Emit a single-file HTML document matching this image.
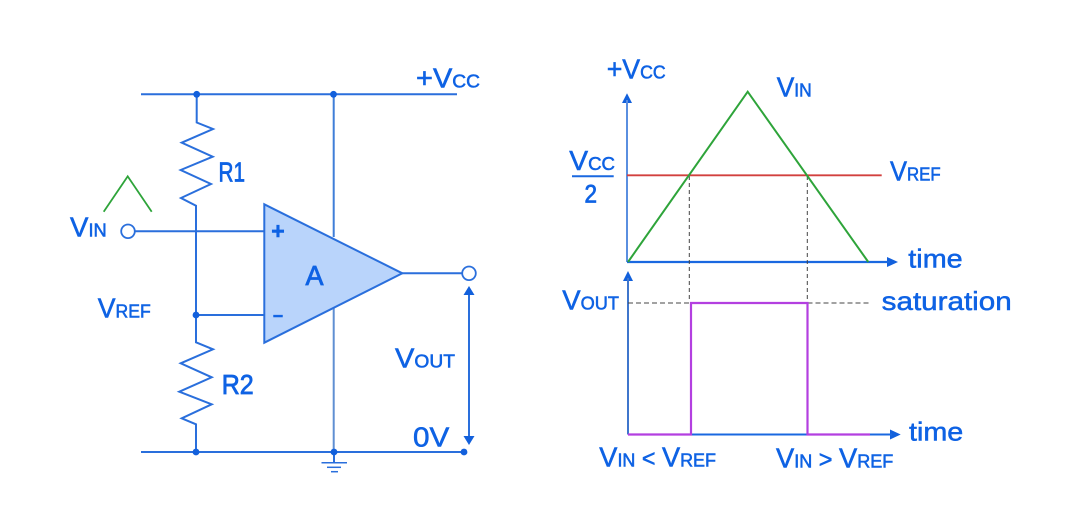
<!DOCTYPE html>
<html><head><meta charset="utf-8"><style>
html,body{margin:0;padding:0;background:#fff;width:1080px;height:527px;overflow:hidden}
svg{display:block}
text{font-family:"Liberation Sans","DejaVu Sans",sans-serif;fill:#0e62e4;stroke:#0e62e4;stroke-width:.55}
.s{font-size:18.5px}
.l{font-size:28px}
</style></head><body>
<svg width="1080" height="527" viewBox="0 0 1080 527" xmlns="http://www.w3.org/2000/svg">
<rect width="1080" height="527" fill="#fff"/>
<g fill="none" stroke="#2a6fdc" stroke-width="2" stroke-linejoin="miter">
<path d="M141 94.3H457"/>
<path d="M141 452H464"/>
<path d="M196.7 94V122.5L213 129L181.7 142.7L212.7 156.7L180.7 170L211 184L181 198L196 205.7V315"/>
<path d="M196 315V342.3L213 349.3L180.7 363.3L211.7 377.3L179.3 391.7L211.7 404.3L181.7 418.3L196 424.3V452"/>
<path d="M135 231.3H264.3"/>
<path d="M196 315H264.3"/>
<path d="M402 273.3H462"/>
<path d="M469 293V438"/>
<path stroke="#3f7ed8" d="M333.7 94V237"/>
<path stroke="#5f8fd2" d="M333.7 308V452"/>
<path d="M334 452V463"/>
<path d="M321.5 462.7H347" stroke-width="1.5"/>
<path d="M327 467.3H341" stroke-width="1.5"/>
<path d="M331 471.7H338" stroke-width="1.5"/>
</g>
<path d="M264.3 204.3L402.3 273.3L264.3 342.7Z" fill="#b9d4fb" stroke="#2a6fdc" stroke-width="2" stroke-linejoin="miter"/>
<g fill="#fff" stroke="#2a6fdc" stroke-width="1.8">
<circle cx="128" cy="231.3" r="6.8"/>
<circle cx="469" cy="273.3" r="6.8"/>
</g>
<g fill="#1260dc">
<circle cx="196.7" cy="94.3" r="3.4"/>
<circle cx="333.5" cy="94.3" r="3.4"/>
<circle cx="196" cy="315" r="3.4"/>
<circle cx="196" cy="452" r="3.4"/>
<circle cx="334" cy="452" r="3.4"/>
<circle cx="464" cy="452" r="3.4"/>
<path d="M469 286L474.5 295H463.5Z"/>
<path d="M469 445L474.5 436H463.5Z"/>
<path d="M627 93.3L632 103H622Z"/>
<path d="M898 262L887 257V267Z"/>
<path d="M628 271L633 281H623Z"/>
<path d="M900.7 434.5L890 429.5V439.5Z"/>
</g>
<path d="M103.7 211.7L127.7 176.3L151.7 211.7" fill="none" stroke="#2ea43a" stroke-width="1.8"/>

<!-- chart 1 -->
<path d="M627 100V262" stroke="#5a8fe0" stroke-width="2" fill="none"/>
<path d="M627 262H890" stroke="#1a68e0" stroke-width="2.2" fill="none"/>
<path d="M689.3 176V302M807.3 176V302" stroke="#444" stroke-width="1" stroke-dasharray="4 3" fill="none"/>
<path d="M627 175.3H881.7" stroke="#d2403f" stroke-width="1.8" fill="none"/>
<path d="M628 262L747.7 91.7L868.3 262" fill="none" stroke="#2ea43a" stroke-width="2"/>
<path d="M572 176.3H613.7" stroke="#1a68e0" stroke-width="2" fill="none"/>

<!-- chart 2 -->
<path d="M628 278V434.5" stroke="#3f76cc" stroke-width="2" fill="none"/>
<path d="M628 434.5H892" stroke="#1a68e0" stroke-width="2" fill="none"/>
<path d="M628 303H691M807.5 303H870" stroke="#444" stroke-width="1" stroke-dasharray="5 3" fill="none"/>
<path d="M628 434.5H691V303H807.5V434.5H870" fill="none" stroke="#b33fe0" stroke-width="2.2"/>

<!-- labels left -->
<text x="416" y="87.3" textLength="64" lengthAdjust="spacingAndGlyphs"><tspan class="l">+V</tspan><tspan class="s">CC</tspan></text>
<text x="70" y="236.7" textLength="36.7" lengthAdjust="spacingAndGlyphs"><tspan class="l">V</tspan><tspan class="s">IN</tspan></text>
<text x="97.7" y="317.3" textLength="53" lengthAdjust="spacingAndGlyphs"><tspan class="l">V</tspan><tspan class="s">REF</tspan></text>
<text x="395" y="367.3" textLength="60" lengthAdjust="spacingAndGlyphs"><tspan class="l">V</tspan><tspan class="s">OUT</tspan></text>
<text class="l" x="218.5" y="181.7" textLength="26.5" lengthAdjust="spacingAndGlyphs" style="stroke-width:.8">R1</text>
<text class="l" x="221.7" y="394" textLength="32" lengthAdjust="spacingAndGlyphs" style="stroke-width:.8">R2</text>
<text class="l" x="413" y="446.7" textLength="36.3" lengthAdjust="spacingAndGlyphs">0V</text>
<text class="l" x="305.5" y="285" textLength="18" lengthAdjust="spacingAndGlyphs" style="stroke-width:.8">A</text>
<text x="278" y="239" text-anchor="middle" style="font-size:23px;font-weight:bold">+</text>
<text x="278" y="321" text-anchor="middle" style="font-size:18px;font-weight:bold">–</text>

<!-- labels right -->
<text x="606.7" y="78.3" textLength="59" lengthAdjust="spacingAndGlyphs"><tspan class="l">+V</tspan><tspan class="s">CC</tspan></text>
<text x="776.7" y="96.7" textLength="35" lengthAdjust="spacingAndGlyphs"><tspan class="l">V</tspan><tspan class="s">IN</tspan></text>
<text x="569.3" y="170" textLength="45.7" lengthAdjust="spacingAndGlyphs"><tspan class="l">V</tspan><tspan class="s">CC</tspan></text>
<text x="584.5" y="202.7" textLength="12.5" lengthAdjust="spacingAndGlyphs" style="font-size:25px;stroke-width:.8">2</text>
<text x="890" y="180.7" textLength="50.7" lengthAdjust="spacingAndGlyphs"><tspan class="l">V</tspan><tspan class="s">REF</tspan></text>
<text x="908.3" y="267.3" textLength="54.4" lengthAdjust="spacingAndGlyphs" style="font-size:26px;stroke-width:.5">time</text>
<text x="562.3" y="309.3" textLength="56.7" lengthAdjust="spacingAndGlyphs"><tspan class="l">V</tspan><tspan class="s">OUT</tspan></text>
<text x="881.7" y="310" textLength="130" lengthAdjust="spacingAndGlyphs" style="font-size:26px;stroke-width:.5">saturation</text>
<text x="909" y="440.7" textLength="54.3" lengthAdjust="spacingAndGlyphs" style="font-size:26px;stroke-width:.5">time</text>
<text x="599.3" y="466.7" textLength="116.7" lengthAdjust="spacingAndGlyphs"><tspan class="l">V</tspan><tspan class="s">IN</tspan><tspan style="font-size:24px"> &lt; </tspan><tspan class="l">V</tspan><tspan class="s">REF</tspan></text>
<text x="776" y="467.7" textLength="117.3" lengthAdjust="spacingAndGlyphs"><tspan class="l">V</tspan><tspan class="s">IN</tspan><tspan style="font-size:24px"> &gt; </tspan><tspan class="l">V</tspan><tspan class="s">REF</tspan></text>
</svg>
</body></html>
